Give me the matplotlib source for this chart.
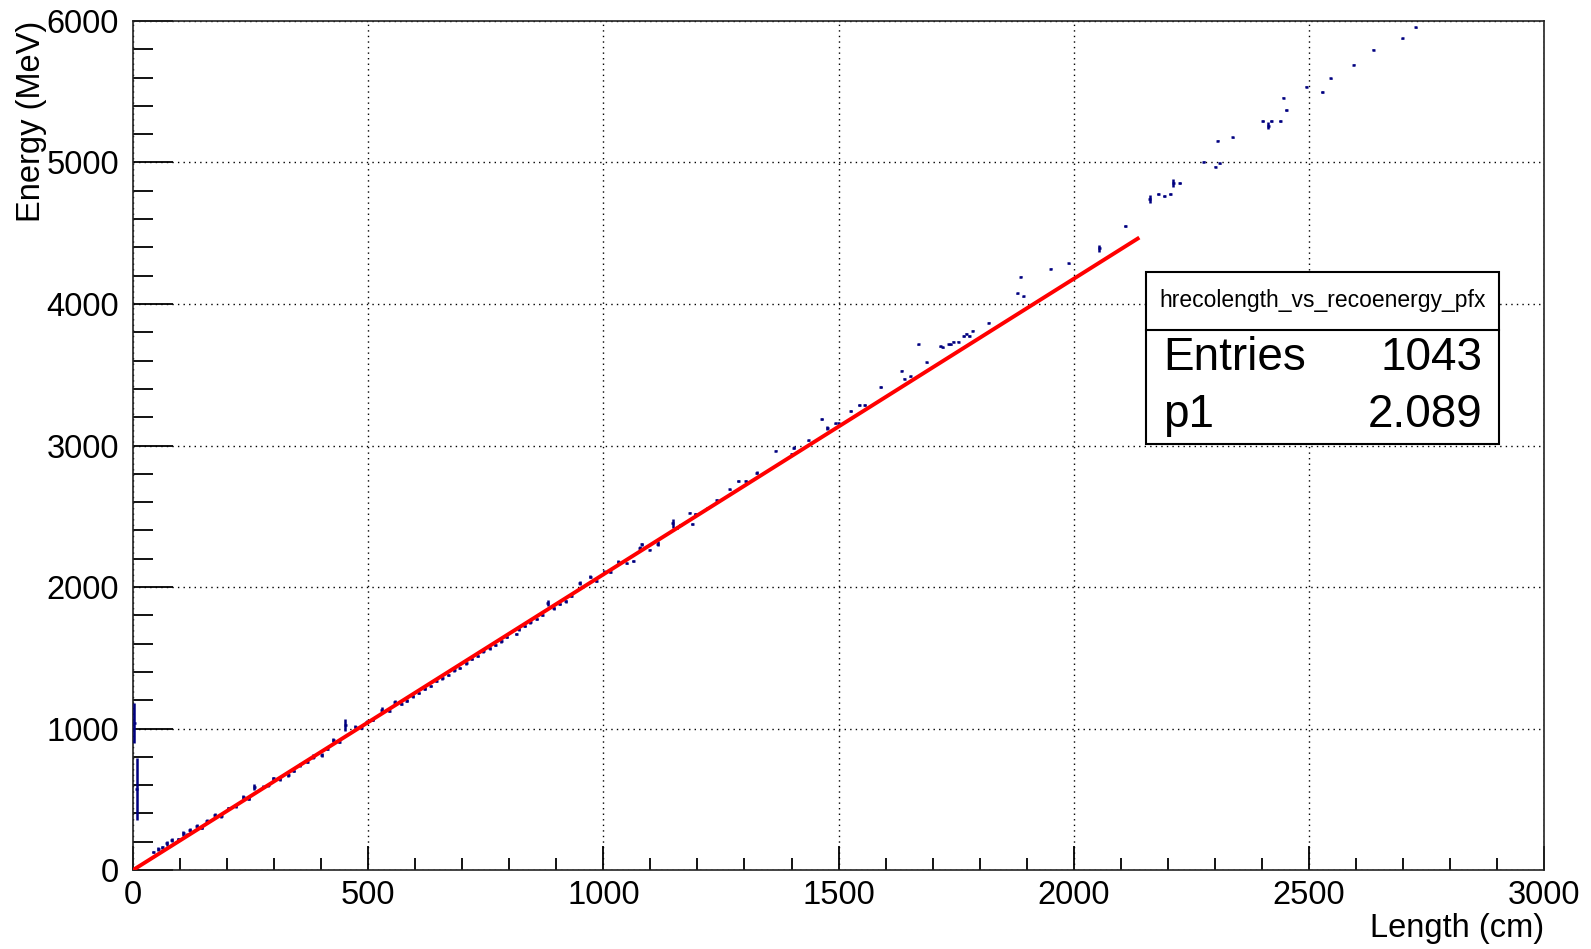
import numpy as np
import matplotlib
matplotlib.use("Agg")
import matplotlib.pyplot as plt
from matplotlib.ticker import MultipleLocator

plt.rcParams['font.family'] = ['Liberation Sans', 'DejaVu Sans']

# profile points (bin centre in cm, mean energy in MeV, error on mean)
length_cm = [2.5, 7.5,
             43, 54, 62, 72, 82, 96, 107, 114, 121, 135, 146, 157, 174, 188, 203,
             218, 234, 246, 258, 277, 288,
             298, 312, 330, 342, 355, 370, 383, 401, 413, 426, 438, 451, 472, 485,
             497, 510, 529, 545, 557,
             570, 582, 595, 607, 620, 633, 645, 658, 670, 683, 695, 708, 720,
             733, 745, 758, 770, 783, 795, 815, 820, 833, 845, 858, 870, 882,
             895, 907, 920, 932, 950, 972, 985, 1002, 1015, 1032, 1050, 1064,
             1077, 1082, 1099, 1116, 1148, 1156, 1163, 1184, 1189, 1195, 1221,
             1241, 1269, 1287, 1303, 1326, 1367, 1401, 1405, 1436, 1464, 1476,
             1493, 1500, 1526, 1544, 1556, 1590, 1634, 1640, 1652, 1670, 1688,
             1716, 1722, 1734, 1739, 1744, 1755, 1766, 1772, 1778, 1785, 1819,
             1880, 1887, 1893, 1951, 1989, 2054, 2110, 2162, 2180, 2192, 2205,
             2212, 2225, 2276, 2301, 2306, 2311, 2338, 2402, 2414, 2420, 2439,
             2446, 2452, 2494, 2528, 2546, 2595, 2637, 2698, 2727]
energy_mev = [1039, 572,
              125, 148, 160, 188, 212, 217, 259, 250, 283, 311, 300, 348, 389, 380,
              435, 450, 518, 505, 589, 589, 598,
              648, 640, 671, 700, 742, 765, 801, 813, 855, 919, 905, 1025, 1013,
              1005, 1048, 1060, 1131, 1125, 1189,
              1175, 1198, 1228, 1250, 1282, 1303, 1336, 1355, 1380, 1412, 1428,
              1462, 1490, 1512, 1545, 1568, 1592, 1616, 1648, 1668, 1700, 1722,
              1752, 1772, 1802, 1885, 1850, 1880, 1900, 1935, 2026, 2073, 2040,
              2108, 2105, 2179, 2167, 2184, 2278, 2301, 2265, 2307, 2449, 2419,
              2438, 2525, 2445, 2516, 2555, 2615, 2690, 2749, 2749, 2808, 2963,
              2940, 2984, 3036, 3187, 3126, 3156, 3156, 3244, 3286, 3286, 3413,
              3529, 3472, 3488, 3715, 3587, 3700, 3694, 3715, 3715, 3733, 3733,
              3774, 3790, 3774, 3811, 3869, 4075, 4193, 4054, 4250, 4288, 4394,
              4551, 4742, 4777, 4763, 4777, 4855, 4855, 5006, 4970, 5155, 4993,
              5177, 5293, 5260, 5293, 5293, 5458, 5371, 5536, 5498, 5595, 5691,
              5797, 5877, 5955]
energy_err = [138, 219,
              8, 12, 8, 15, 12, 8, 15, 10, 12, 15, 10, 12, 15, 10,
              12, 10, 15, 10, 22, 12, 10,
              12, 10, 15, 10, 12, 10, 18, 12, 10, 15, 10, 45, 12,
              10, 15, 10, 20, 10, 15,
              10, 10, 10, 8, 10, 8, 10, 10, 8, 10, 8, 10, 8,
              10, 8, 10, 8, 10, 8, 5, 10, 8, 10, 8, 10, 20,
              10, 8, 10, 8, 15, 10, 8, 10, 8, 10, 5, 5,
              15, 10, 5, 15, 30, 10, 5, 5, 5, 5, 5,
              5, 5, 5, 5, 10, 5, 5, 10, 5, 5, 15,
              5, 5, 5, 5, 5, 5, 5, 5, 5, 5, 5,
              5, 5, 5, 5, 5, 5, 5, 5, 5, 5, 5,
              5, 5, 5, 5, 5, 25, 5, 30, 5, 5, 5,
              30, 5, 5, 5, 5, 5, 5, 5, 25, 5, 5,
              5, 5, 5, 5, 5, 5, 5, 5, 5]
bin_half_width = 3.2

# fit result (pol1 through origin) and its range
fit_range = [0, 2136]
p1 = 2.089
n_entries = 1043

fig = plt.figure(figsize=(15.91, 9.49), dpi=100)
ax = fig.add_axes([0.0836, 0.0832, 0.8869, 0.8947])

ax.errorbar(length_cm, energy_mev, yerr=energy_err, xerr=bin_half_width,
            fmt='none', ecolor='#000080', elinewidth=1.8, capsize=0, zorder=3)

fit_x = np.linspace(fit_range[0], fit_range[1], 200)
ax.plot(fit_x, p1 * fit_x, color='#ff0000', lw=2.8, zorder=4)

ax.set_xlim(0, 3000)
ax.set_ylim(0, 6000)
ax.xaxis.set_major_locator(MultipleLocator(500))
ax.xaxis.set_minor_locator(MultipleLocator(100))
ax.yaxis.set_major_locator(MultipleLocator(1000))
ax.yaxis.set_minor_locator(MultipleLocator(200))

ax.tick_params(axis='x', which='major', direction='in', length=17, width=1.3,
               labelsize=23.5, pad=7, top=False)
ax.tick_params(axis='x', which='minor', direction='in', length=8.5, width=1.3,
               top=False)
ax.tick_params(axis='y', which='major', direction='in', length=29, width=1.3,
               labelsize=23.5, pad=10, right=False)
ax.tick_params(axis='y', which='minor', direction='in', length=14.5, width=1.3,
               right=False)

ax.grid(True, which='major', color='black', lw=1, linestyle=(0, (1, 3)))
ax.set_axisbelow(True)
for sp in ax.spines.values():
    sp.set_linewidth(1.2)
    sp.set_color('#222222')

ax.text(1.0, -0.051, 'Length (cm)', transform=ax.transAxes, ha='right',
        va='top', fontsize=23.5)
ax.text(-0.072, 1.0, 'Energy (MeV)', transform=ax.transAxes, rotation=90,
        ha='center', va='top', fontsize=23.5)

# stats box
bx0, bx1 = 1146 / 1591, 1499 / 1591
by0, bdiv, by1 = 1 - 444 / 949, 1 - 330 / 949, 1 - 272 / 949
box = plt.Rectangle((bx0, by0), bx1 - bx0, by1 - by0, transform=fig.transFigure,
                    facecolor='white', edgecolor='black', lw=1.5, zorder=10)
fig.add_artist(box)
fig.add_artist(plt.Line2D([bx0, bx1], [bdiv, bdiv], transform=fig.transFigure,
                          color='black', lw=1.5, zorder=11))
fig.text((bx0 + bx1) / 2, (bdiv + by1) / 2, 'hrecolength_vs_recoenergy_pfx',
         ha='center', va='center', fontsize=16.5, zorder=12)
fig.text(1163 / 1591, 1 - 358 / 949, 'Entries', ha='left', va='center',
         fontsize=33, zorder=12)
fig.text(1482 / 1591, 1 - 358 / 949, f'{n_entries}', ha='right', va='center',
         fontsize=33, zorder=12)
fig.text(1163 / 1591, 1 - 415 / 949, 'p1', ha='left', va='center',
         fontsize=33, zorder=12)
fig.text(1482 / 1591, 1 - 415 / 949, f'{p1:.3f}', ha='right', va='center',
         fontsize=33, zorder=12)

fig.savefig('out.png', dpi=100)
